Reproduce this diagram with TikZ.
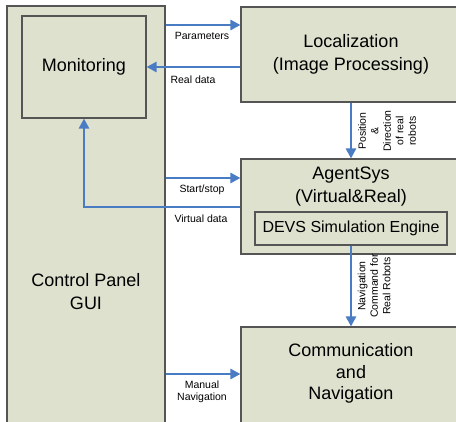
\documentclass[tikz,border=0pt]{standalone}
\usepackage{fontspec}
\setmainfont{Liberation Sans}
\usetikzlibrary{positioning,arrows.meta}
\usepackage{xcolor}
\definecolor{boxfill}{HTML}{DFE1CF}
\definecolor{boxline}{HTML}{555555}
\definecolor{flowblue}{HTML}{4A7CC4}
\tikzset{
  block/.style={draw=boxline,fill=boxfill,line width=1.1pt,inner sep=0pt},
  bigtext/.style={align=center,font=\fontsize{18}{23}\selectfont},
  smalltext/.style={align=center,font=\fontsize{10.5}{12.5}\selectfont},
  flow/.style={draw=flowblue,line width=2.9pt,-{Triangle[length=10pt,width=10pt]}}
}
\begin{document}
\begin{tikzpicture}[x=1pt,y=-1pt]
\useasboundingbox (0,0) rectangle (456,422);
\clip (0,0) rectangle (456,422);
% blocks
\node[block,minimum width=158pt,minimum height=424pt] (gui) at (86,218) {};
\node[bigtext] (guitext) at (86,292) {Control Panel\\GUI};
\node[block,minimum width=124pt,minimum height=102pt,bigtext] (mon) at (84,67) {Monitoring};
\node[block,minimum width=220pt,minimum height=95pt,bigtext] (loc) at (351,54.5) {Localization\\(Image Processing)};
\node[block,minimum width=220pt,minimum height=95pt] (agent) at (351,206.5) {};
\node[bigtext] (agenttext) at (351,187) {AgentSys\\(Virtual\&Real)};
\node[block,minimum width=192pt,minimum height=33pt,font=\fontsize{16}{19}\selectfont] (devs) at (351,228.5) {DEVS Simulation Engine};
\node[block,minimum width=220pt,minimum height=104pt] (comm) at (351,379) {};
\node[bigtext,font=\fontsize{18}{21.5}\selectfont] (commtext) at (351,373.5) {Communication\\and\\Navigation};
% connectors
\draw[flow] (gui.east |- 0,25) -- (loc.west |- 0,25);
\draw[flow] (loc.west |- mon.east) -- (mon.east);
\draw[flow] (gui.east |- 0,178) -- (agent.west |- 0,178);
\draw[flow] (agent.west |- 0,207) -| (mon.south);
\draw[flow] (gui.east |- 0,374) -- (comm.west |- 0,374);
\draw[flow] (loc.south) -- (agent.north);
\draw[flow] (devs.south) -- (comm.north);
% labels
\node[smalltext] (lparam) at (202,36) {Parameters};
\node[smalltext] (lreal) at (193,80) {Real data};
\node[smalltext] (lstart) at (202,190) {Start/stop};
\node[smalltext] (lvirt) at (201,219) {Virtual data};
\node[smalltext] (lmanual) at (202,392) {Manual\\Navigation};
\node[smalltext,rotate=90] (lpos) at (387,131) {Position\\\&\\Direction\\of real\\robots};
\node[smalltext,rotate=90] (lnav) at (374,286) {Navigation\\Command for\\Real Robots};
\end{tikzpicture}
\end{document}
